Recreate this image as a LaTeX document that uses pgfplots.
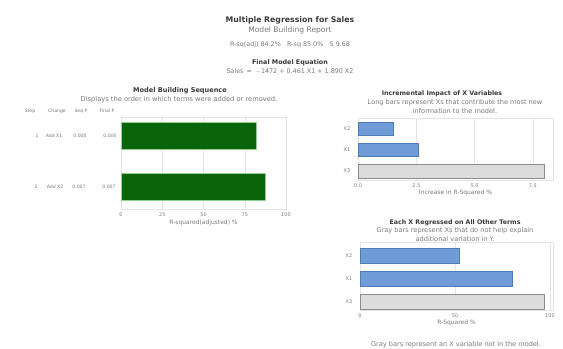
\documentclass[border=0pt]{standalone}
\usepackage{pgfplots}
\pgfplotsset{compat=1.18}
\usepackage{fontspec}
\setmainfont{DejaVu Sans}
\definecolor{ttl}{HTML}{3A3A3A}
\definecolor{sub}{HTML}{7A7A7A}
\definecolor{barg}{HTML}{0A640A}
\definecolor{barge}{HTML}{8FD08F}
\definecolor{barb}{HTML}{6F9BD6}
\definecolor{barbe}{HTML}{4F7BB6}
\definecolor{barn}{HTML}{DCDCDC}
\definecolor{barne}{HTML}{8C8C8C}
\definecolor{gridc}{HTML}{E4E4E4}
\newcommand{\fs}[1]{\fontsize{#1}{#1}\selectfont}
% page coordinates: x to the right, Y measured from the top of a 563 x 349 sheet
\newcommand{\pg}[2]{(#1bp,{(349-#2)*1bp})}
\pgfplotsset{
  panel/.style={
    scale only axis, xbar, y dir=reverse,
    axis line style={gridc}, tick style={draw=none},
    xmajorgrids, grid style={gridc},
    ticklabel style={font=\fs{5}, text=sub},
    xlabel style={font=\fs{6}, text=sub},
    /pgf/number format/assume math mode=true,
    xmin=0, anchor=north west,
  },
}
\begin{document}
\begin{tikzpicture}
\useasboundingbox[fill=white] (0,0) rectangle (563bp,349bp);
% header
\node[font=\fs{7.8}\bfseries, text=ttl] at \pg{290}{20} {Multiple Regression for Sales};
\node[font=\fs{7.6}, text=sub] at \pg{290}{30} {Model Building Report};
\node[font=\fs{6.4}, text=sub] at \pg{290}{45} {R-sq(adj) 84.2\%\quad R-sq 85.0\%\quad S 9.68};
\node[font=\fs{6.4}\bfseries, text=ttl] at \pg{290}{63} {Final Model Equation};
\node[font=\fs{6.4}, text=sub] at \pg{290}{71} {Sales\enspace =\enspace $-$1472 + 0.461 X1 + 1.890 X2};

% ---- model building sequence
\node[font=\fs{6.6}\bfseries, text=ttl] at \pg{180}{91} {Model Building Sequence};
\node[font=\fs{6.7}, text=sub] at \pg{179}{100} {Displays the order in which terms were added or removed.};
\begin{scope}[font=\fs{4.6}, text=sub]
\node at \pg{30}{111} {Step};
\node at \pg{57}{111} {Change};
\node at \pg{81}{111} {Seq P};
\node at \pg{107}{111} {Final P};
\node at \pg{37}{136} {1};
\node at \pg{54}{136} {Add X1};
\node at \pg{80}{136} {0.000};
\node at \pg{110}{136} {0.000};
\node at \pg{36}{187} {2};
\node at \pg{55}{187} {Add X2};
\node at \pg{79}{187} {0.007};
\node at \pg{109}{187} {0.007};
\end{scope}
\begin{axis}[panel, at={(121bp,232bp)},
  width=165bp, height=92bp, xmax=100, ymin=0.637, ymax=2.44,
  xtick={0,25,50,75,100}, ytick={1,2}, yticklabels={}, bar width=27bp,
  xlabel={R-squared(adjusted) \%}, xlabel style={yshift=3bp}]
\addplot[fill=barg, draw=barge] coordinates {(82.0,1) (87.4,2)};
\end{axis}

% ---- incremental impact
\node[font=\fs{6.3}\bfseries, text=ttl] at \pg{442}{94} {Incremental Impact of X Variables};
\node[font=\fs{6.6}, text=sub] at \pg{455}{103} {Long bars represent Xs that contribute the most new};
\node[font=\fs{6.6}, text=sub] at \pg{455}{111} {information to the model.};
\begin{axis}[panel, at={(358bp,231bp)},
  width=195bp, height=62bp, xmax=8.36, ymin=0.48, ymax=3.43,
  xtick={0,2.5,5,7.5}, xticklabel style={/pgf/number format/.cd,fixed,fixed zerofill,precision=1},
  ytick={1,2,3}, yticklabels={X2,X1,X3}, bar width=12.5bp,
  xlabel={Increase in R-Squared \%}, xlabel style={yshift=4bp}]
\addplot[fill=barb, draw=barbe, bar shift=0pt] coordinates {(1.5,1) (2.6,2)};
\addplot[fill=barn, draw=barne, bar shift=0pt, bar width=13.5bp] coordinates {(8.0,3)};
\end{axis}

% ---- each X regressed on the others
\node[font=\fs{6.3}\bfseries, text=ttl] at \pg{455}{223} {Each X Regressed on All Other Terms};
\node[font=\fs{6.6}, text=sub] at \pg{455}{231} {Gray bars represent Xs that do not help explain};
\node[font=\fs{6.6}, text=sub] at \pg{455}{239} {additional variation in Y.};
\begin{axis}[panel, at={(360bp,107bp)},
  width=193bp, height=68bp, xmax=101.6, ymin=0.41, ymax=3.37,
  xtick={0,50,100}, ytick={1,2,3}, yticklabels={X2,X1,X3}, bar width=15bp,
  xlabel={R-Squared \%}, xlabel style={yshift=4bp}]
\addplot[fill=barb, draw=barbe, bar shift=0pt] coordinates {(52,1) (80,2)};
\addplot[fill=barn, draw=barne, bar shift=0pt] coordinates {(97,3)};
\end{axis}
\node[font=\fs{6.6}, text=sub] at \pg{456}{345} {Gray bars represent an X variable not in the model.};
\end{tikzpicture}
\end{document}
